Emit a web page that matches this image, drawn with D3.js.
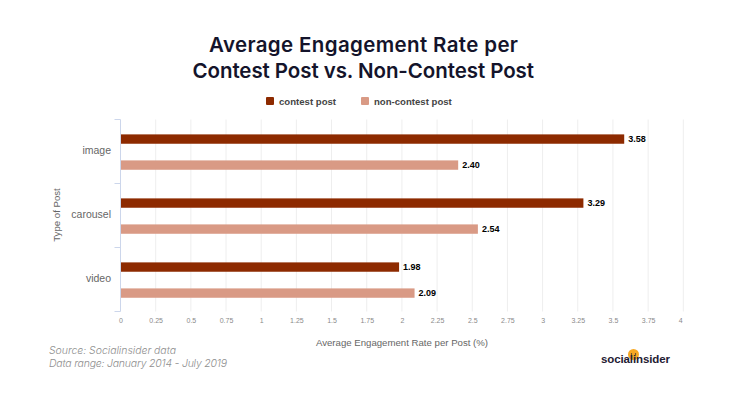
<!DOCTYPE html>
<html lang="en">
<head>
<meta charset="utf-8">
<title>Average Engagement Rate</title>
<script src="https://d3js.org/d3.v7.min.js"></script>
<style>
    html, body { margin: 0; padding: 0; background: #fff; }
    svg { display: block; }
    text { font-family: "Liberation Sans", Arial, sans-serif; }
    .title { font-family: Inter, sans-serif; font-weight: 600; font-size: 20.5px; fill: #14142b; }
    .note { font-family: Inter, sans-serif; font-style: italic; font-weight: 300; font-size: 10.5px; fill: #8f8f8f; }
</style>
</head>
<body>
<script>
    // data
    const categories = ["image", "carousel", "video"];
    const seriesNames = ["contest post", "non-contest post"];
    const contestValues = [3.58, 3.29, 1.98];
    const nonContestValues = [2.40, 2.54, 2.09];
    const xTicks = [0, 0.25, 0.5, 0.75, 1, 1.25, 1.5, 1.75, 2, 2.25, 2.5, 2.75, 3, 3.25, 3.5, 3.75, 4];
    const titleLines = ["Average Engagement Rate per", "Contest Post vs. Non-Contest Post"];
    const noteLines = ["Source: Socialinsider data", "Data range: January 2014 - July 2019"];
    const colors = ["#8d2a00", "#d99a85"];

    // layout
    const width = 730, height = 400;
    const plotLeft = 120.5, plotRight = 683.3, plotTop = 119.5, plotBottom = 311.5;
    // the original fonts aren't installed so stretch these lines to the same width
    const titleX = [209, 192.5], titleWidth = [309, 341.5];
    const noteWidth = [127, 178];

    const svg = d3.select("body").append("svg")
        .attr("width", width)
        .attr("height", height);

    const x = d3.scaleLinear().domain([0, 4]).range([plotLeft, plotRight]);
    const y = d3.scaleBand().domain(categories).range([plotTop, plotBottom]);
    const inner = d3.scaleBand().domain(seriesNames).range([0, y.bandwidth()])
        .paddingInner(0.64).paddingOuter(0.55).align(0.52);

    // title
    svg.selectAll(".title")
        .data(titleLines)
        .enter()
        .append("text")
        .attr("class", "title")
        .attr("x", (d, i) => titleX[i])
        .attr("y", (d, i) => 52 + i * 26)
        .attr("textLength", (d, i) => titleWidth[i])
        .text(d => d);

    // gridlines
    svg.append("g").selectAll("line")
        .data(xTicks.slice(1))
        .enter()
        .append("line")
        .attr("x1", d => x(d)).attr("x2", d => x(d))
        .attr("y1", plotTop).attr("y2", plotBottom)
        .attr("stroke", "#eeeeee");

    // bottom axis, labels only
    const xAxis = svg.append("g")
        .attr("transform", `translate(0,${plotBottom})`)
        .call(d3.axisBottom(x).tickValues(xTicks).tickSize(0).tickPadding(7).tickFormat(d => String(d)));
    xAxis.select(".domain").remove();
    xAxis.selectAll("text")
        .attr("font-family", "Liberation Sans")
        .attr("font-size", 7)
        .attr("fill", "#8a8a8a")
        .attr("dx", d => d === 4 ? -3 : 0);

    // left axis with ticks at band edges
    const yAxisLine = svg.append("g").attr("stroke", "#ccd6eb");
    yAxisLine.append("line")
        .attr("x1", plotLeft).attr("x2", plotLeft)
        .attr("y1", plotTop).attr("y2", plotBottom);
    yAxisLine.selectAll(".edge")
        .data(categories.map(c => y(c)).concat([plotBottom]))
        .enter()
        .append("line")
        .attr("class", "edge")
        .attr("x1", plotLeft - 6).attr("x2", plotLeft)
        .attr("y1", d => d).attr("y2", d => d);

    svg.selectAll(".cat")
        .data(categories)
        .enter()
        .append("text")
        .attr("class", "cat")
        .attr("x", 111)
        .attr("y", d => y(d) + y.bandwidth() / 2 + 2)
        .attr("text-anchor", "end")
        .attr("font-size", 10.5)
        .attr("fill", "#666666")
        .text(d => d);

    // bars and value labels
    const series = [contestValues, nonContestValues];
    series.forEach((values, s) => {
        const g = svg.append("g");
        const name = seriesNames[s];
        g.selectAll("rect")
            .data(values)
            .enter()
            .append("rect")
            .attr("x", x(0) + 0.5)
            .attr("y", (d, i) => y(categories[i]) + inner(name))
            .attr("width", d => x(d) - x(0) - 0.5)
            .attr("height", inner.bandwidth())
            .attr("fill", colors[s]);
        g.selectAll("text")
            .data(values)
            .enter()
            .append("text")
            .attr("x", d => x(d) + 4)
            .attr("y", (d, i) => y(categories[i]) + inner(name) + inner.bandwidth() / 2 + 2.7)
            .attr("font-size", 9)
            .attr("font-weight", "bold")
            .attr("fill", "#000")
            .text(d => d.toFixed(2));
    });

    // legend
    const legendX = [266, 361];
    seriesNames.forEach((name, i) => {
        svg.append("rect")
            .attr("x", legendX[i]).attr("y", 97)
            .attr("width", 8).attr("height", 8)
            .attr("rx", 1)
            .attr("fill", colors[i]);
        svg.append("text")
            .attr("x", legendX[i] + 13).attr("y", 105)
            .attr("font-size", 9.6)
            .attr("font-weight", "bold")
            .attr("fill", "#444444")
            .text(name);
    });

    // axis titles
    svg.append("text")
        .attr("x", 402).attr("y", 346)
        .attr("text-anchor", "middle")
        .attr("font-size", 9.65)
        .attr("fill", "#666666")
        .text("Average Engagement Rate per Post (%)");
    svg.append("text")
        .attr("transform", "translate(59.5,215) rotate(-90)")
        .attr("text-anchor", "middle")
        .attr("font-size", 9.65)
        .attr("fill", "#666666")
        .text("Type of Post");

    // source notes
    svg.selectAll(".note")
        .data(noteLines)
        .enter()
        .append("text")
        .attr("class", "note")
        .attr("x", 49)
        .attr("y", (d, i) => 354 + i * 12.7)
        .attr("textLength", (d, i) => noteWidth[i])
        .text(d => d);

    // logo
    svg.append("circle").attr("cx", 633.5).attr("cy", 354.5).attr("r", 5.5).attr("fill", "#f7a823");
    svg.append("circle").attr("cx", 631.5).attr("cy", 354).attr("r", 0.7).attr("fill", "#1f2033");
    svg.append("circle").attr("cx", 635.5).attr("cy", 354).attr("r", 0.7).attr("fill", "#1f2033");
    svg.append("text")
        .attr("x", 601).attr("y", 363)
        .attr("font-family", "Inter")
        .attr("font-weight", 600)
        .attr("font-size", 11.5)
        .attr("textLength", 69)
        .attr("fill", "#1f2033")
        .text("socialinsider");
</script>
</body>
</html>
